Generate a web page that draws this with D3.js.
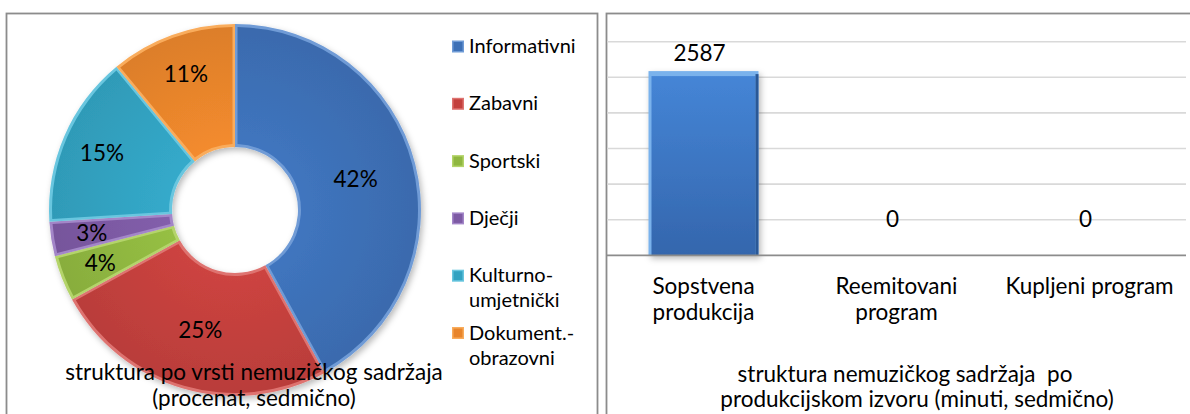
<!DOCTYPE html>
<html>
<head>
<meta charset="utf-8">
<script src="https://cdn.jsdelivr.net/npm/d3@7"></script>
<style>
  body { margin: 0; background: #fff; }
  svg { display: block; font-family: Lato, "Open Sans", sans-serif; }
</style>
</head>
<body>
<div id="chart"></div>
<script>
// pie data: share of non-music content by type (percent, weekly)
const categories = ["Informativni", "Zabavni", "Sportski", "Dječji", "Kulturno-umjetnički", "Dokument.-obrazovni"];
const legendLines = [["Informativni"], ["Zabavni"], ["Sportski"], ["Dječji"], ["Kulturno-", "umjetnički"], ["Dokument.-", "obrazovni"]];
const shares = [42, 25, 4, 3, 15, 11];

// bar data: non-music content by production source (minutes, weekly)
const sources = ["Sopstvena produkcija", "Reemitovani program", "Kupljeni program"];
const sourceLines = [["Sopstvena", "produkcija"], ["Reemitovani", "program"], ["Kupljeni program"]];
const minutes = [2587, 0, 0];
const yTicks = [0, 500, 1000, 1500, 2000, 2500, 3000];

const baseColors = ["#3d70b6", "#c3403d", "#8fb740", "#7d5aa4", "#32a2c1", "#e8852c"];
const lightColors = ["#6f9bd6", "#de7370", "#b4d46a", "#a386c8", "#69c6df", "#f9ac5c"];

const width = 1190, height = 414;

const svg = d3.create('svg')
  .attr('width', width)
  .attr('height', height);

const defs = svg.append('defs');
defs.append('filter').attr('id', 'shadow')
  .attr('x', '-10%').attr('y', '-10%').attr('width', '130%').attr('height', '130%')
  .append('feDropShadow')
  .attr('dx', 2).attr('dy', 3).attr('stdDeviation', 3)
  .attr('flood-color', '#000').attr('flood-opacity', 0.28);

baseColors.forEach((c, i) => {
  const g = defs.append('radialGradient').attr('id', 'slice' + i)
    .attr('gradientUnits', 'userSpaceOnUse')
    .attr('cx', 0).attr('cy', 0).attr('r', 186);
  g.append('stop').attr('offset', '30%').attr('stop-color', d3.color(c).brighter(0.15));
  g.append('stop').attr('offset', '100%').attr('stop-color', d3.color(c).darker(0.15));
});

const barGrad = defs.append('linearGradient').attr('id', 'barGrad')
  .attr('x1', 0).attr('y1', 0).attr('x2', 0).attr('y2', 1);
barGrad.append('stop').attr('offset', '0%').attr('stop-color', '#4585d6');
barGrad.append('stop').attr('offset', '100%').attr('stop-color', '#3466ad');

// panel frames
svg.append('rect')
  .attr('x', 6.5).attr('y', 13.5).attr('width', 591).attr('height', 420)
  .attr('fill', 'none').attr('stroke', '#8c8c8c').attr('stroke-width', 1.8);
svg.append('rect')
  .attr('x', 606.5).attr('y', 13.5).attr('width', 600).attr('height', 420)
  .attr('fill', 'none').attr('stroke', '#8c8c8c').attr('stroke-width', 1.8);

// ---------- donut ----------
const cx = 235, cy = 210, rOuter = 186, rInner = 63;

const pie = d3.pie().sort(null).value(d => d.value);
const arcs = pie(shares.map((v, i) => ({ name: categories[i], value: v, i: i })));

const arc = d3.arc().innerRadius(rInner).outerRadius(rOuter);
const arcInset = d3.arc().innerRadius(rInner + 3).outerRadius(rOuter - 3)
  .padRadius(100).padAngle(0.05);
const labelArc = d3.arc().innerRadius(145).outerRadius(145);

const pieG = svg.append('g')
  .attr('transform', `translate(${cx}, ${cy})`);

const slices = pieG.append('g').attr('filter', 'url(#shadow)');
slices.selectAll('path.edge')
  .data(arcs)
  .join('path')
  .attr('class', 'edge')
  .attr('d', arc)
  .attr('fill', d => lightColors[d.data.i]);
slices.selectAll('path.face')
  .data(arcs)
  .join('path')
  .attr('class', 'face')
  .attr('d', arcInset)
  .attr('fill', d => `url(#slice${d.data.i})`);

pieG.selectAll('text')
  .data(arcs)
  .join('text')
  .attr('transform', d => {
    // large slices keep the label at the ring middle, small ones sit further out
    const p = (d.endAngle - d.startAngle) > 1.2 ? arc.centroid(d) : labelArc.centroid(d);
    return `translate(${p[0]}, ${p[1]})`;
  })
  .attr('text-anchor', 'middle')
  .attr('dy', '0.36em')
  .attr('font-size', '22.5px')
  .attr('fill', '#000')
  .text(d => d.data.value + '%');

// legend
const legend = svg.append('g').attr('transform', 'translate(452, 46.5)');
const legendRow = legend.selectAll('g')
  .data(legendLines)
  .join('g')
  .attr('transform', (d, i) => `translate(0, ${i * 57.3})`);
legendRow.append('rect')
  .attr('x', 0).attr('y', -6).attr('width', 12).attr('height', 12)
  .attr('fill', (d, i) => lightColors[i]);
legendRow.append('rect')
  .attr('x', 1.5).attr('y', -4.5).attr('width', 9).attr('height', 9)
  .attr('fill', (d, i) => baseColors[i]);
legendRow.append('text')
  .attr('x', 17)
  .attr('font-size', '20px')
  .attr('fill', '#000')
  .selectAll('tspan')
  .data(d => d)
  .join('tspan')
  .attr('x', 17)
  .attr('y', (d, j) => 6.5 + j * 25)
  .text(d => d);

// left title
svg.append('text')
  .attr('text-anchor', 'middle')
  .attr('font-size', '22.5px')
  .attr('fill', '#000')
  .selectAll('tspan')
  .data(['struktura po vrsti nemuzičkog sadržaja', '(procenat, sedmično)'])
  .join('tspan')
  .attr('x', 254)
  .attr('y', (d, i) => 380 + i * 26)
  .text(d => d);

// ---------- bar chart ----------
const xScale = d3.scaleBand()
  .domain(sources)
  .range([607, 1186])
  .paddingInner(0.43)
  .paddingOuter(0.215);

const yScale = d3.scaleLinear()
  .domain([0, 3000])
  .range([255.3, 41.7]);

// gridlines
svg.append('g')
  .selectAll('line')
  .data(yTicks.filter(t => t > 0))
  .join('line')
  .attr('x1', 607).attr('x2', 1186)
  .attr('y1', d => yScale(d)).attr('y2', d => yScale(d))
  .attr('stroke', '#d9d9d9').attr('stroke-width', 1.6);

const bars = svg.append('g').attr('filter', 'url(#shadow)');
const barData = sources.map((s, i) => ({ source: s, value: minutes[i] }));
bars.selectAll('rect.edge')
  .data(barData.filter(d => d.value > 0))
  .join('rect')
  .attr('class', 'edge')
  .attr('x', d => xScale(d.source))
  .attr('y', d => yScale(d.value))
  .attr('width', xScale.bandwidth())
  .attr('height', d => yScale(0) - yScale(d.value))
  .attr('fill', '#7ab2ec');
bars.selectAll('rect.face')
  .data(barData.filter(d => d.value > 0))
  .join('rect')
  .attr('class', 'face')
  .attr('x', d => xScale(d.source) + 3)
  .attr('y', d => yScale(d.value) + 5)
  .attr('width', xScale.bandwidth() - 6)
  .attr('height', d => yScale(0) - yScale(d.value) - 5)
  .attr('fill', 'url(#barGrad)');
bars.selectAll('rect.side')
  .data(barData.filter(d => d.value > 0))
  .join('rect')
  .attr('class', 'side')
  .attr('x', d => xScale(d.source) + xScale.bandwidth() - 3)
  .attr('y', d => yScale(d.value) + 3)
  .attr('width', 3)
  .attr('height', d => yScale(0) - yScale(d.value) - 3)
  .attr('fill', '#2c5896');

// x axis line
svg.append('line')
  .attr('x1', 607).attr('x2', 1186)
  .attr('y1', yScale(0)).attr('y2', yScale(0))
  .attr('stroke', '#8c8c8c').attr('stroke-width', 1.8);

// value labels
svg.append('g')
  .selectAll('text')
  .data(barData)
  .join('text')
  .attr('x', d => xScale(d.source) + xScale.bandwidth() / 2 - 4)
  .attr('y', d => Math.min(yScale(d.value), yScale(0) - 18) - 10.5)
  .attr('text-anchor', 'middle')
  .attr('font-size', '22.5px')
  .attr('fill', '#000')
  .text(d => d.value);

// category labels
svg.append('g')
  .selectAll('text')
  .data(sources)
  .join('text')
  .attr('text-anchor', 'middle')
  .attr('font-size', '22.5px')
  .attr('fill', '#000')
  .each(function(d, i) {
    d3.select(this).selectAll('tspan')
      .data(sourceLines[i])
      .join('tspan')
      .attr('x', xScale(d) + xScale.bandwidth() / 2)
      .attr('y', (t, j) => 294 + j * 26)
      .text(t => t);
  });

// right title
svg.append('text')
  .attr('text-anchor', 'middle')
  .attr('font-size', '22.5px')
  .attr('fill', '#000')
  .selectAll('tspan')
  .data(['struktura nemuzičkog sadržaja  po', 'produkcijskom izvoru (minuti, sedmično)'])
  .join('tspan')
  .attr('x', (d, i) => i === 0 ? 905 : 917)
  .attr('y', (d, i) => 382 + i * 25)
  .style('white-space', 'pre')
  .text(d => d);

document.getElementById("chart").appendChild(svg.node());
</script>
</body>
</html>
